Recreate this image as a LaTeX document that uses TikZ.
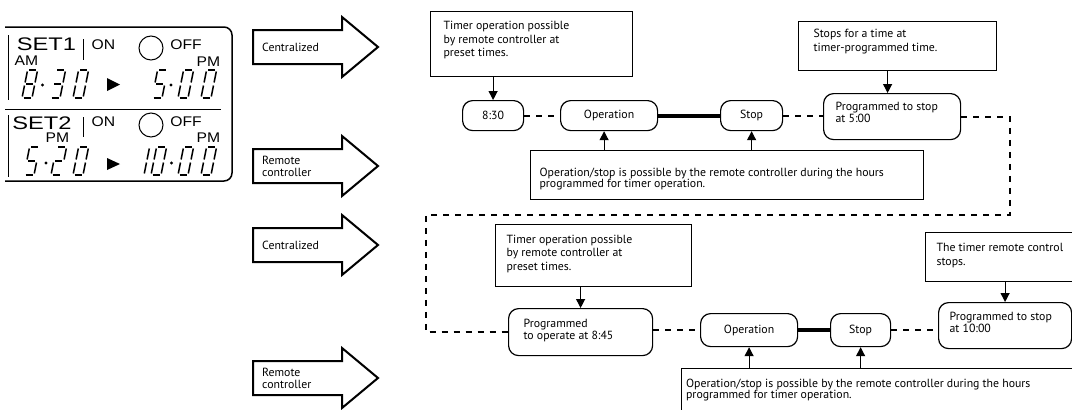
\documentclass[tikz,border=0pt]{standalone}
\usepackage{fontspec}
\usepackage{graphicx}
\setmainfont{PT Sans}
\newfontfamily\lcdfont{Liberation Sans}
\usetikzlibrary{arrows.meta}
\newcommand{\tb}[6]{\parbox[c][#2][t]{#1}{\fontsize{11.8}{#5}\selectfont\raggedright\leftskip=#4\relax\noindent\rule{0pt}{#3}#6}}
\newcommand{\lcdS}[1]{\fontsize{18.2}{20}\selectfont\scalebox{1.3}[1]{#1}}
\newcommand{\lcds}[1]{\fontsize{14}{16}\selectfont\scalebox{1.12}[1]{#1}}
\newcommand{\lcd}[3]{%
 \begin{scope}[shift={(#1,#2)},xslant=0.2]
  \foreach \s in {#3}{%
   \if a\s \draw[seg] (1.5,-28) -- (8.5,-28);\fi
   \if b\s \draw[seg] (10,-26.5) -- (10,-15.5);\fi
   \if c\s \draw[seg] (10,-12.5) -- (10,-1.5);\fi
   \if d\s \draw[seg] (1.5,0) -- (8.5,0);\fi
   \if e\s \draw[seg] (0,-12.5) -- (0,-1.5);\fi
   \if f\s \draw[seg] (0,-26.5) -- (0,-15.5);\fi
   \if g\s \draw[seg] (1.5,-14) -- (8.5,-14);\fi
  }
 \end{scope}}
\newcommand{\barrow}[3]{%
 \draw[barr] (253,#1-17) -- (342,#1-17) -- (342,#1-30) -- (378,#1) -- (342,#1+30) -- (342,#1+17) -- (253,#1+17) -- cycle;
 \node[atext, anchor=west] (#2) at (262,#1) {#3};}
\begin{document}
\begin{tikzpicture}[x=1pt,y=-1pt,
 font=\fontsize{11.8}{12}\selectfont,
 note/.style={draw, line width=1.2pt, inner sep=0pt, anchor=north west},
 state/.style={draw, line width=1.2pt, rounded corners=10pt, inner sep=0pt, anchor=north west},
 dsh/.style={line width=1.8pt, dash pattern=on 6pt off 6pt},
 heavy/.style={line width=4pt},
 arr/.style={line width=1.2pt, -{Triangle[width=9pt,length=9pt]}},
 barr/.style={line width=2pt, fill=white},
 atext/.style={font=\fontsize{11.8}{12}\selectfont, align=left, inner sep=0pt},
 seg/.style={line width=1.5pt},
 lcdtext/.style={font=\lcdfont, inner sep=0pt},
 frame/.style={line width=1.5pt, rounded corners=8pt},
 thin/.style={line width=1pt}
]
\useasboundingbox (0,0) rectangle (1072,410);
\fill[white] (0,0) rectangle (1072,410);
\clip (0,0) rectangle (1072,410);

% LCD panel
\draw[frame] (5,27) -- (232,27) -- (232,181) -- (5,181);
\draw[thin] (5,109) -- (221,109);
\draw[thin] (8,35) -- (8,100);
\draw[thin] (8,115) -- (8,177);
\draw[thin] (83,39) -- (83,60);
\draw[thin] (83,117) -- (83,137);
\draw[thin] (151,48) circle (12);
\draw[thin] (151,125) circle (12);
\node[lcdtext] (set1) at (46.5,44.5) {\lcdS{SET1}};
\node[lcdtext] (am1) at (26.5,61) {\lcds{AM}};
\node[lcdtext] (on1) at (103.5,44.5) {\lcds{ON}};
\node[lcdtext] (off1) at (186,44.5) {\lcds{OFF}};
\node[lcdtext] (pm1) at (208.5,61.5) {\lcds{PM}};
\node[lcdtext] (set2) at (42,123.5) {\lcdS{SET2}};
\node[lcdtext] (pm2) at (57.5,138) {\lcds{PM}};
\node[lcdtext] (on2) at (103.5,122) {\lcds{ON}};
\node[lcdtext] (off2) at (186,122) {\lcds{OFF}};
\node[lcdtext] (pm3) at (208.5,138) {\lcds{PM}};
\fill (107,78) -- (120,84.5) -- (107,91) -- cycle;
\fill (107,158) -- (120,164) -- (107,170) -- cycle;
% digits row 1
\lcd{22}{98}{a,b,c,d,e,f,g}
\fill (42.5,85) circle (1.7);
\lcd{50}{98}{a,b,g,c,d}
\lcd{73}{98}{a,b,c,d,e,f}
\lcd{152}{98}{a,f,g,c,d}
\fill (171,85) circle (1.7);
\lcd{178}{98}{a,b,c,d,e,f}
\lcd{201}{98}{a,b,c,d,e,f}
% digits row 2
\lcd{24}{175}{a,f,g,c,d}
\fill (46,163) circle (1.7);
\lcd{51}{175}{a,b,g,e,d}
\lcd{73}{175}{a,b,c,d,e,f}
\lcd{134}{175}{b,c}
\lcd{151}{175}{a,b,c,d,e,f}
\fill (171.5,163) circle (1.7);
\lcd{178}{175}{a,b,c,d,e,f}
\lcd{201}{175}{a,b,c,d,e,f}

% block arrows
\barrow{47}{ba1}{Centralized}
\barrow{166}{ba2}{Remote\\controller}
\barrow{245}{ba3}{Centralized}
\barrow{378}{ba4}{Remote\\controller}

% top flow
\node[note] (b1) at (430,11) {\tb{202pt}{65pt}{18pt}{13pt}{13.4pt}{Timer operation possible\\by remote controller at\\preset times.}};
\node[state, minimum width=61, minimum height=30] (n830) at (462,100) {8:30};
\node[state, minimum width=97, minimum height=30] (op1) at (560,100) {Operation};
\node[state, minimum width=62, minimum height=30] (st1) at (720,100) {Stop};
\node[state] (p1) at (823,93) {\tb{137pt}{46pt}{17pt}{12pt}{12.3pt}{Programmed to stop\\at 5:00}};
\node[note] (b2) at (798,21) {\tb{198pt}{49pt}{16.3pt}{15pt}{13.4pt}{Stops for a time at\\timer-programmed time.}};
\node[note] (b3) at (530,150) {\tb{393pt}{49pt}{25.5pt}{9pt}{11pt}{Operation/stop is possible by the remote controller during the hours\\programmed for timer operation.}};

\coordinate (p1a) at ([xshift=-4.5pt]p1.north);
\coordinate (op1a) at ([xshift=-5pt]op1.south);
\coordinate (c1) at (1010,215);
\coordinate (c3) at (426,215);

% bottom flow
\node[note] (b4) at (495,224) {\tb{196pt}{62pt}{18.7pt}{11pt}{13.4pt}{Timer operation possible\\by remote controller at\\preset times.}};
\node[state] (p2) at (508,308) {\tb{144pt}{47pt}{18.7pt}{15pt}{12.3pt}{Programmed\\to operate at 8:45}};
\node[state, minimum width=97, minimum height=33] (op2) at (700,313) {Operation};
\node[state, minimum width=60, minimum height=33] (st2) at (830,313) {Stop};
\node[state] (p3) at (938,302) {\tb{133pt}{46pt}{18pt}{11pt}{12pt}{Programmed to stop\\at 10:00}};
\node[note] (b6) at (925,232) {\tb{146.5pt}{49pt}{19pt}{11pt}{13.4pt}{The timer remote control\\stops.}};
\node[note] (b5) at (681,368) {\tb{400pt}{60pt}{18.7pt}{4.5pt}{11.5pt}{Operation/stop is possible by the remote controller during the hours\\programmed for timer operation.}};

% connectors
\draw[arr] (b1.south -| n830.north) -- (n830.north);
\draw[dsh] (n830.east) -- (op1.west);
\draw[heavy] (op1.east) -- (st1.west);
\draw[dsh] (st1.east) -- (st1.east -| p1.west);
\draw[arr] (p1a |- b2.south) -- (p1a);
\draw[arr] (op1a |- b3.north) -- (op1a);
\draw[arr] (st1.south |- b3.north) -- (st1.south);
\draw[dsh] (p1.east) -| (c1) -| (c3) |- (p2.west);
\draw[arr] (b4.south -| p2.north) -- (p2.north);
\draw[dsh] (op2.west -| p2.east) -- (op2.west);
\draw[heavy] (op2.east) -- (st2.west);
\draw[dsh] (st2.east) -- (st2.east -| p3.west);
\draw[arr] (b6.south -| p3.north) -- (p3.north);
\draw[arr] (b5.north -| op2.south) -- (op2.south);
\draw[arr] (b5.north -| st2.south) -- (st2.south);
\end{tikzpicture}
\end{document}
